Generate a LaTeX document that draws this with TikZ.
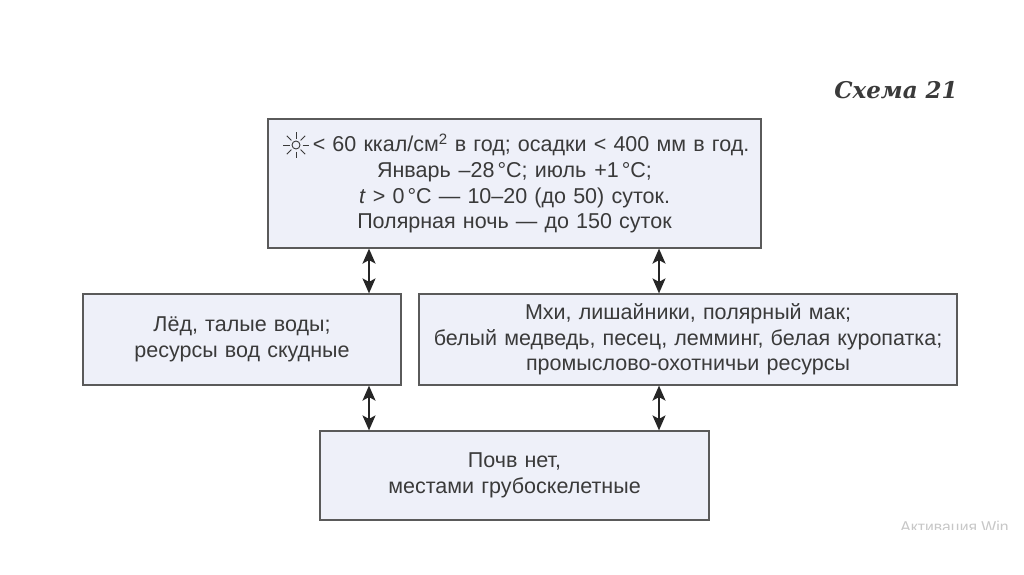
\documentclass[tikz,border=0pt]{standalone}
\usepackage{fontspec}
\setmainfont{Liberation Sans}
\newfontfamily\titlefont{DejaVu Serif}
\usetikzlibrary{shapes.geometric, arrows.meta, calc}
\definecolor{boxfill}{HTML}{EEF0F9}
\definecolor{boxline}{HTML}{5A5A5A}
\definecolor{inktext}{HTML}{3A3A3A}
\tikzstyle{infobox} = [rectangle, draw=boxline, fill=boxfill, line width=1.2pt,
text=inktext, text centered, inner sep=0pt,
font=\fontsize{21.5}{25.7}\selectfont]
\tikzstyle{arrow} = [line width=1.8pt,{Stealth[length=15pt,width=13pt,inset=3.5pt]}-{Stealth[length=15pt,width=13pt,inset=3.5pt]},draw=black!85]
\tikzstyle{ray} = [line width=0.9pt,draw=inktext]

\begin{document}
\begin{tikzpicture}[x=1pt,y=-1pt]
\useasboundingbox (0,0) rectangle (1024,574);

\node (title) [text=inktext, font=\titlefont\itshape\bfseries\fontsize{23}{26}\selectfont] at (896,90) {Схема 21};

\node (climate) [infobox, minimum width=493pt, minimum height=129pt, text width=490pt] at (514.5,183.5)
{\hspace*{33pt}< 60 ккал/см\textsuperscript{2} в год; осадки < 400 мм в год.\\
Январь\hspace{8pt}–28\hspace{3pt}°C; июль\hspace{8pt}+1\hspace{3pt}°C;\\
\textit{t} > 0\hspace{3pt}°C — 10–20 (до 50) суток.\\
Полярная ночь — до 150 суток};
\node (water) [infobox, minimum width=318pt, minimum height=91pt, text width=310pt] at (242,339.5)
{Лёд, талые воды;\\ресурсы вод скудные};
\node (biota) [infobox, minimum width=538pt, minimum height=91pt, text width=530pt] at (688,339.5)
{Мхи, лишайники, полярный мак;\\белый медведь, песец, лемминг, белая куропатка;\\промыслово-охотничьи ресурсы};
\node (soil) [infobox, minimum width=389pt, minimum height=89pt, text width=380pt] at (514.5,475.5)
{Почв нет,\\местами грубоскелетные};

% sun
\coordinate (sun) at (296,145);
\draw [ray] (sun) circle (4pt);
\foreach \a in {0,45,...,315}
  \draw [ray] ($(sun)+(\a:6.5pt)$) -- ($(sun)+(\a:13pt)$);

\coordinate (left) at (369,0);
\coordinate (right) at (659,0);
\draw [arrow] (climate.south -| left) -- (water.north -| left);
\draw [arrow] (climate.south -| right) -- (biota.north -| right);
\draw [arrow] (water.south -| left) -- (soil.north -| left);
\draw [arrow] (biota.south -| right) -- (soil.north -| right);

\begin{scope}
\clip (890,500) rectangle (1024,529.5);
\node (mark) [anchor=base east, text=black!22, font=\fontsize{15.7}{18}\selectfont] at (1012,532) {Активация Win};
\end{scope}

\end{tikzpicture}
\end{document}
